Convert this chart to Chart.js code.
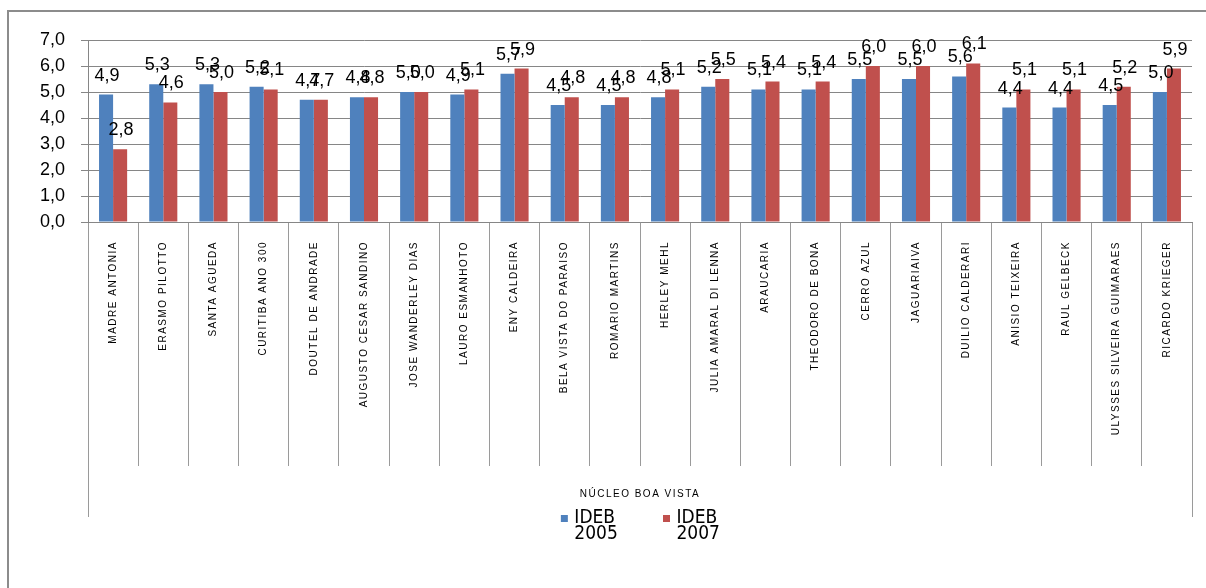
<!DOCTYPE html>
<html><head><meta charset="utf-8">
<script src="https://cdn.jsdelivr.net/npm/chart.js@4.4.1/dist/chart.umd.min.js"></script>
<style>
html,body{margin:0;padding:0;background:#fff;overflow:hidden;width:1206px;height:588px;}
#wrap{position:absolute;left:0;top:0;width:1206px;height:588px;}
#frame{position:absolute;left:7px;top:10px;width:1230px;height:620px;border:2px solid #8c8c8c;pointer-events:none;}
</style></head><body>
<div id="wrap"><canvas id="c"></canvas></div>
<div id="frame"></div>
<script>
const categories = ['MADRE ANTONIA','ERASMO PILOTTO','SANTA AGUEDA','CURITIBA ANO 300','DOUTEL DE ANDRADE','AUGUSTO CESAR SANDINO','JOSE WANDERLEY DIAS','LAURO ESMANHOTO','ENY CALDEIRA','BELA VISTA DO PARAISO','ROMARIO MARTINS','HERLEY MEHL','JULIA AMARAL DI LENNA','ARAUCARIA','THEODORO DE BONA','CERRO AZUL','JAGUARIAIVA','DUILIO CALDERARI','ANISIO TEIXEIRA','RAUL GELBECK','ULYSSES SILVEIRA GUIMARAES','RICARDO KRIEGER'];
const groupLabel = 'NÚCLEO BOA VISTA';
const seriesNames = ['IDEB 2005','IDEB 2007'];
const ideb2005 = [4.9,5.3,5.3,5.2,4.7,4.8,5.0,4.9,5.7,4.5,4.5,4.8,5.2,5.1,5.1,5.5,5.5,5.6,4.4,4.4,4.5,5.0];
const ideb2007 = [2.8,4.6,5.0,5.1,4.7,4.8,5.0,5.1,5.9,4.8,4.8,5.1,5.5,5.4,5.4,6.0,6.0,6.1,5.1,5.1,5.2,5.9];
const yTicks = [0,1,2,3,4,5,6,7];
const seriesColors = ['#4F81BD','#C0504D'];

const fmt = v => v.toFixed(1).replace('.', ',');

Chart.defaults.font.family = "'Liberation Sans', Arial, sans-serif";
Chart.defaults.color = '#000';

const valueLabels = {
  id: 'valueLabels',
  afterDatasetsDraw(chart) {
    const ctx = chart.ctx;
    ctx.save();
    ctx.font = "18px 'Liberation Sans', Arial, sans-serif";
    ctx.fillStyle = '#000';
    ctx.textAlign = 'center';
    ctx.textBaseline = 'alphabetic';
    chart.data.datasets.forEach((ds, di) => {
      const meta = chart.getDatasetMeta(di);
      meta.data.forEach((bar, i) => {
        ctx.fillText(fmt(ds.data[i]), bar.x + 1, bar.y - 14);
      });
    });
    ctx.restore();
  }
};

const spacedLabels = {
  id: 'spacedLabels',
  beforeDraw(chart) {
    ['x', 'x2'].forEach(id => {
      const s = chart.scales[id];
      if (s && !s.__spaced) {
        const orig = s.drawLabels;
        s.drawLabels = function (area) {
          const c = this.ctx; c.save(); c.letterSpacing = '1.5px'; orig.call(this, area); c.restore();
        };
        s.__spaced = true;
      }
    });
  }
};

// legend placement: shift it a little and let its two-line labels draw unclipped
const legendShift = {
  id: 'legendShift',
  afterLayout(chart) {
    const lg = chart.legend;
    if (!lg) return;
    lg.left += 25; lg.right += 25;
    if (!lg.__noclip) {
      lg.draw = function () { if (this.options.display) this._draw(); };
      lg.__noclip = true;
    }
  }
};

new Chart(document.getElementById('c'), {
  type: 'bar',
  data: {
    labels: categories,
    datasets: [
      { label: seriesNames[0], data: ideb2005, backgroundColor: seriesColors[0], borderWidth: 0, categoryPercentage: 0.56, barPercentage: 1.0 },
      { label: seriesNames[1], data: ideb2007, backgroundColor: seriesColors[1], borderWidth: 0, categoryPercentage: 0.56, barPercentage: 1.0 }
    ]
  },
  options: {
    responsive: true,
    maintainAspectRatio: false,
    animation: false,
    layout: { padding: { left: 0, right: 14, top: 40, bottom: 50 } },
    plugins: {
      tooltip: { enabled: false },
      legend: {
        position: 'bottom',
        fullSize: false,
        labels: {
          usePointStyle: true, pointStyle: 'rect',
          boxWidth: 1, boxHeight: 7, padding: 2,
          color: '#000',
          font: { family: "'DejaVu Sans Condensed','Liberation Sans',Arial,sans-serif", size: 19, lineHeight: 0.84 },
          generateLabels(chart) {
            return chart.data.datasets.map((ds, i) => ({
              text: ds.label.split(' '),
              fillStyle: ds.backgroundColor,
              strokeStyle: ds.backgroundColor,
              lineWidth: 0,
              pointStyle: 'rect',
              hidden: false,
              datasetIndex: i,
              fontColor: '#000'
            }));
          }
        }
      }
    },
    scales: {
      x: {
        type: 'category', position: 'bottom', offset: true, weight: 0,
        grid: { display: true, drawOnChartArea: false, offset: true, tickLength: 244, color: '#9a9a9a', lineWidth: 1 },
        border: { display: true, color: '#868686' },
        ticks: { autoSkip: false, minRotation: 90, maxRotation: 90, padding: -225, font: { size: 10 }, color: '#000' },
        afterFit(s) { s.height = 230; }
      },
      x2: {
        type: 'category', position: 'bottom', labels: [groupLabel], offset: true, weight: 1,
        grid: { display: true, drawOnChartArea: false, offset: true, tickLength: 65, color: '#9a9a9a', lineWidth: 1 },
        border: { display: false },
        ticks: { autoSkip: false, maxRotation: 0, padding: -29, font: { size: 10 }, color: '#000' },
        afterFit(s) { s.height = 55; }
      },
      y: {
        min: 0, max: 7,
        afterBuildTicks(s) { s.ticks = yTicks.map(v => ({ value: v })); },
        grid: { color: '#868686', tickLength: 7, lineWidth: 1 },
        border: { display: true, color: '#868686' },
        ticks: { autoSkip: false, padding: 16, font: { size: 18 }, color: '#000', callback: v => fmt(v) },
        afterFit(s) { s.width = 88; }
      }
    }
  },
  plugins: [valueLabels, spacedLabels, legendShift]
});
</script>
</body></html>
